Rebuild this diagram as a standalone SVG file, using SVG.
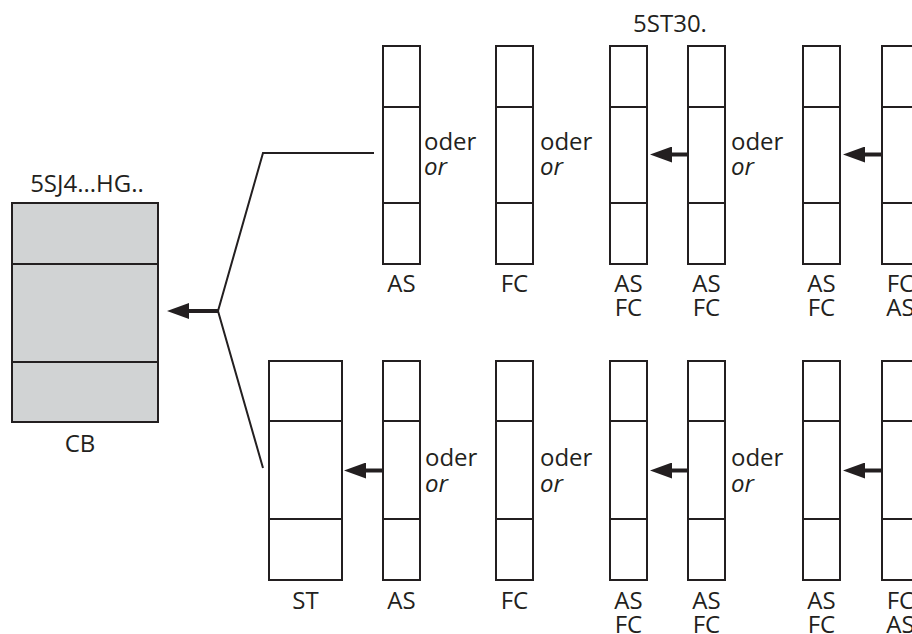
<svg xmlns="http://www.w3.org/2000/svg" width="912" height="634" viewBox="0 0 912 634">
<style>
.box{fill:#fff;stroke:#231f20;stroke-width:2}
.cb{fill:#d1d3d4;stroke:#231f20;stroke-width:2}
.div{stroke:#231f20;stroke-width:2;fill:none}
.ln{stroke:#231f20;stroke-width:2;fill:none}
.arr{stroke:#231f20;stroke-width:4;fill:none;marker-end:url(#ah)}
text{font-family:"Open Sans","Noto Sans",sans-serif;font-size:24px;fill:#231f20}
.c{text-anchor:middle}
.i{font-style:italic}
</style>
<defs>
<marker id="ah" markerUnits="userSpaceOnUse" viewBox="0 0 22 16" markerWidth="22" markerHeight="16" refX="0" refY="8" orient="auto">
<path d="M0,0 L22,8 L0,16 z" fill="#231f20"/>
</marker>
</defs>

<text class="c" x="87" y="192">5SJ4...HG..</text>
<text class="c" x="670" y="32">5ST30.</text>

<g id="cb">
<rect class="cb" x="12" y="203" width="146" height="219"/>
<line class="div" x1="12" y1="264" x2="158" y2="264"/>
<line class="div" x1="12" y1="362" x2="158" y2="362"/>
<text class="c" x="80" y="452">CB</text>
</g>

<g id="top-as">
<rect class="box" x="383" y="46" width="37" height="218"/>
<line class="div" x1="383" y1="107" x2="420" y2="107"/>
<line class="div" x1="383" y1="203" x2="420" y2="203"/>
<text class="c" x="401.5" y="292">AS</text>
</g>
<g id="top-fc">
<rect class="box" x="496" y="46" width="37" height="218"/>
<line class="div" x1="496" y1="107" x2="533" y2="107"/>
<line class="div" x1="496" y1="203" x2="533" y2="203"/>
<text class="c" x="514.5" y="292">FC</text>
</g>
<g id="top-c1">
<rect class="box" x="610" y="46" width="37" height="218"/>
<line class="div" x1="610" y1="107" x2="647" y2="107"/>
<line class="div" x1="610" y1="203" x2="647" y2="203"/>
<text class="c" x="628.5" y="292">AS</text>
<text class="c" x="628.5" y="316">FC</text>
</g>
<g id="top-c2">
<rect class="box" x="688" y="46" width="37" height="218"/>
<line class="div" x1="688" y1="107" x2="725" y2="107"/>
<line class="div" x1="688" y1="203" x2="725" y2="203"/>
<text class="c" x="706.5" y="292">AS</text>
<text class="c" x="706.5" y="316">FC</text>
</g>
<g id="top-c3">
<rect class="box" x="803" y="46" width="37" height="218"/>
<line class="div" x1="803" y1="107" x2="840" y2="107"/>
<line class="div" x1="803" y1="203" x2="840" y2="203"/>
<text class="c" x="821.5" y="292">AS</text>
<text class="c" x="821.5" y="316">FC</text>
</g>
<g id="top-c4">
<rect class="box" x="882" y="46" width="37" height="218"/>
<line class="div" x1="882" y1="107" x2="919" y2="107"/>
<line class="div" x1="882" y1="203" x2="919" y2="203"/>
<text class="c" x="900.5" y="292">FC</text>
<text class="c" x="900.5" y="316">AS</text>
</g>

<g id="bot-st">
<rect class="box" x="269" y="361" width="73" height="219"/>
<line class="div" x1="269" y1="421" x2="342" y2="421"/>
<line class="div" x1="269" y1="519" x2="342" y2="519"/>
<text class="c" x="305.5" y="609">ST</text>
</g>
<g id="bot-as">
<rect class="box" x="383" y="361" width="37" height="219"/>
<line class="div" x1="383" y1="421" x2="420" y2="421"/>
<line class="div" x1="383" y1="519" x2="420" y2="519"/>
<text class="c" x="401.5" y="609">AS</text>
</g>
<g id="bot-fc">
<rect class="box" x="496" y="361" width="37" height="219"/>
<line class="div" x1="496" y1="421" x2="533" y2="421"/>
<line class="div" x1="496" y1="519" x2="533" y2="519"/>
<text class="c" x="514.5" y="609">FC</text>
</g>
<g id="bot-c1">
<rect class="box" x="610" y="361" width="37" height="219"/>
<line class="div" x1="610" y1="421" x2="647" y2="421"/>
<line class="div" x1="610" y1="519" x2="647" y2="519"/>
<text class="c" x="628.5" y="609">AS</text>
<text class="c" x="628.5" y="633">FC</text>
</g>
<g id="bot-c2">
<rect class="box" x="688" y="361" width="37" height="219"/>
<line class="div" x1="688" y1="421" x2="725" y2="421"/>
<line class="div" x1="688" y1="519" x2="725" y2="519"/>
<text class="c" x="706.5" y="609">AS</text>
<text class="c" x="706.5" y="633">FC</text>
</g>
<g id="bot-c3">
<rect class="box" x="803" y="361" width="37" height="219"/>
<line class="div" x1="803" y1="421" x2="840" y2="421"/>
<line class="div" x1="803" y1="519" x2="840" y2="519"/>
<text class="c" x="821.5" y="609">AS</text>
<text class="c" x="821.5" y="633">FC</text>
</g>
<g id="bot-c4">
<rect class="box" x="882" y="361" width="37" height="219"/>
<line class="div" x1="882" y1="421" x2="919" y2="421"/>
<line class="div" x1="882" y1="519" x2="919" y2="519"/>
<text class="c" x="900.5" y="609">FC</text>
<text class="c" x="900.5" y="633">AS</text>
</g>

<g id="or-labels">
<text x="424" y="150">oder</text><text class="i" x="424" y="175">or</text>
<text x="540" y="150">oder</text><text class="i" x="540" y="175">or</text>
<text x="731" y="150">oder</text><text class="i" x="731" y="175">or</text>
<text x="425" y="466">oder</text><text class="i" x="425" y="492">or</text>
<text x="540" y="466">oder</text><text class="i" x="540" y="492">or</text>
<text x="731" y="466">oder</text><text class="i" x="731" y="492">or</text>
</g>

<g id="connectors">
<polyline class="ln" points="374,153 263,153 218,311 263,468"/>
<line class="arr" x1="218" y1="311" x2="189" y2="311"/>
<line class="arr" x1="688" y1="154.5" x2="672" y2="154.5"/>
<line class="arr" x1="882" y1="154.5" x2="865" y2="154.5"/>
<line class="arr" x1="383" y1="470.5" x2="366" y2="470.5"/>
<line class="arr" x1="688" y1="470.5" x2="672" y2="470.5"/>
<line class="arr" x1="882" y1="470.5" x2="865" y2="470.5"/>
</g>
</svg>
